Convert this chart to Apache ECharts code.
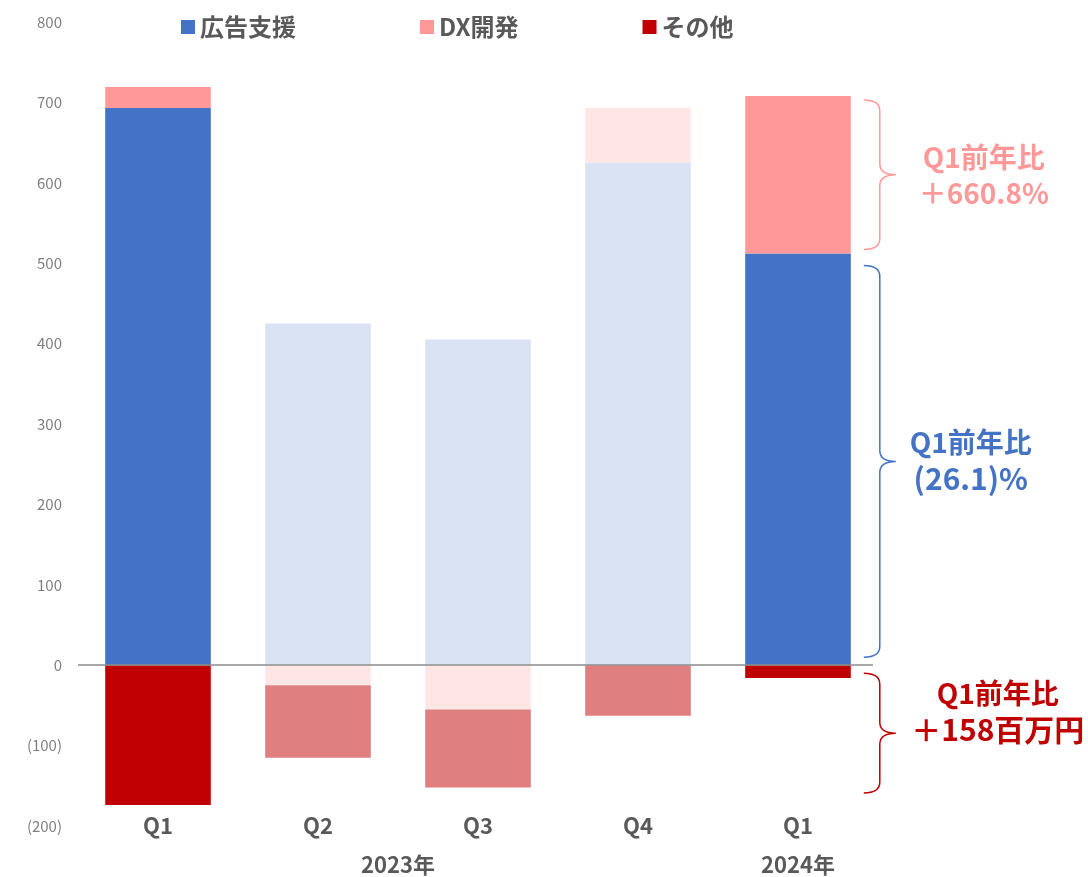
<!DOCTYPE html>
<html>
<head>
<meta charset="utf-8">
<script src="https://cdn.jsdelivr.net/npm/echarts@6/dist/echarts.min.js"></script>
<style>
  html, body { margin: 0; padding: 0; background: #fff; }
  #chart { width: 1088px; height: 877px; }
</style>
</head>
<body>
<div id="chart"></div>
<script>
// data
const categories = ['Q1', 'Q2', 'Q3', 'Q4', 'Q1'];
const adSupport = [693, 425, 405, 625, 512];   // 広告支援
const dxDev = [26, -25, -55, 68, 196];          // DX開発
const others = [-174, -90, -97, -63, -16];      // その他
const yearLabels = ['2023年', '2024年'];
const yearFrom = [0, 4];
const yearTo = [3, 4];
const highlighted = [0, 4];

// yoy brackets on the right of the last bar (DX開発, 広告支援, その他)
const braceFrom = [703, 497, -10];
const braceTo = [517, 10, -159];
const noteLine1 = ['Q1前年比', 'Q1前年比', 'Q1前年比'];
const noteLine2 = ['＋660.8%', '(26.1)%', '＋158百万円'];
const noteAt = [610, 256, -56];

const FONT = '"Noto Sans CJK JP", "Noto Sans", sans-serif';
const colors = ['#4472C4', '#FF9999', '#C00000'];
const faded = ['#DAE3F3', '#FFE6E6', '#DF7F7F'];
const noteColors = [colors[1], colors[0], colors[2]];
const noteDx = [88, 75, 102];
const note2Size = [28, 30, 30];

function styled(values, idx) {
  return values.map((v, i) => ({
    value: v,
    itemStyle: { color: highlighted.includes(i) ? colors[idx] : faded[idx] }
  }));
}

const chart = echarts.init(document.getElementById('chart'));

chart.setOption({
  animation: false,
  textStyle: { fontFamily: FONT },
  legend: {
    data: ['広告支援', 'DX開発', 'その他'],
    left: 176,
    top: 10,
    itemWidth: 14,
    itemHeight: 14,
    itemGap: 124,
    icon: 'rect',
    textStyle: { fontSize: 24, fontWeight: 'bold', color: '#595959', fontFamily: FONT }
  },
  grid: { left: 78, right: 210, top: 22, bottom: 51 },
  xAxis: {
    type: 'category',
    data: categories,
    axisLine: { show: false },
    axisTick: { show: false },
    axisLabel: {
      margin: 0,
      verticalAlign: 'middle',
      fontSize: 22,
      fontWeight: 'bold',
      color: '#595959',
      fontFamily: FONT
    }
  },
  yAxis: {
    type: 'value',
    min: -200,
    max: 800,
    interval: 100,
    splitLine: { show: false },
    axisLine: { show: false },
    axisTick: { show: false },
    axisLabel: {
      margin: 16,
      fontSize: 15,
      color: '#7F7F7F',
      fontFamily: FONT,
      formatter: v => v < 0 ? '(' + (-v) + ')' : String(v)
    }
  },
  series: [
    {
      name: '広告支援',
      type: 'bar',
      stack: 'total',
      barWidth: '66%',
      itemStyle: { color: colors[0] },
      data: styled(adSupport, 0),
      markLine: {
        silent: true,
        symbol: 'none',
        label: { show: false },
        lineStyle: { color: '#8C8C8C', width: 1.5, type: 'solid' },
        data: [[{ x: 78, yAxis: 0 }, { x: 873, yAxis: 0 }]]
      }
    },
    {
      name: 'DX開発',
      type: 'bar',
      stack: 'total',
      itemStyle: { color: colors[1] },
      data: styled(dxDev, 1)
    },
    {
      name: 'その他',
      type: 'bar',
      stack: 'total',
      itemStyle: { color: colors[2] },
      data: styled(others, 2)
    },
    {
      // braces + yoy notes
      type: 'custom',
      silent: true,
      clip: false,
      z: 5,
      data: braceFrom.map((f, i) => [categories.length - 1, f, braceTo[i], noteAt[i]]),
      renderItem: function (params, api) {
        const i = params.dataIndex;
        const cat = api.value(0);
        const center = api.coord([cat, 0])[0];
        const half = api.size([1, 0])[0] * 0.66 / 2;
        const x0 = center + half + 13;
        const xv = x0 + 16;
        const xt = x0 + 32;
        const top = api.coord([cat, api.value(1)])[1];
        const bot = api.coord([cat, api.value(2)])[1];
        const mid = (top + bot) / 2;
        const r = 11;
        const path = 'M' + x0 + ' ' + top +
          ' Q' + xv + ' ' + top + ' ' + xv + ' ' + (top + r) +
          ' L' + xv + ' ' + (mid - r) +
          ' Q' + xv + ' ' + mid + ' ' + xt + ' ' + mid +
          ' Q' + xv + ' ' + mid + ' ' + xv + ' ' + (mid + r) +
          ' L' + xv + ' ' + (bot - r) +
          ' Q' + xv + ' ' + bot + ' ' + x0 + ' ' + bot;
        const ty = api.coord([cat, api.value(3)])[1];
        const tx = xt + noteDx[i];
        const c = noteColors[i];
        return {
          type: 'group',
          children: [
            {
              type: 'path',
              shape: { pathData: path },
              style: { stroke: c, fill: null, lineWidth: 1.5 }
            },
            {
              type: 'text',
              x: tx,
              y: ty - 17,
              style: {
                text: noteLine1[i],
                fill: c,
                font: 'bold 28px ' + FONT,
                align: 'center',
                verticalAlign: 'middle'
              }
            },
            {
              type: 'text',
              x: tx,
              y: ty + 19,
              style: {
                text: noteLine2[i],
                fill: c,
                font: 'bold ' + note2Size[i] + 'px ' + FONT,
                align: 'center',
                verticalAlign: 'middle'
              }
            }
          ]
        };
      }
    },
    {
      // year group labels
      type: 'custom',
      silent: true,
      clip: false,
      data: yearLabels.map((y, i) => [yearFrom[i], yearTo[i]]),
      renderItem: function (params, api) {
        const i = params.dataIndex;
        const a = api.coord([api.value(0), -200]);
        const b = api.coord([api.value(1), -200]);
        return {
          type: 'text',
          x: (a[0] + b[0]) / 2,
          y: a[1] + 39,
          style: {
            text: yearLabels[i],
            fill: '#595959',
            font: 'bold 22px ' + FONT,
            align: 'center',
            verticalAlign: 'middle'
          }
        };
      }
    }
  ]
});
</script>
</body>
</html>
